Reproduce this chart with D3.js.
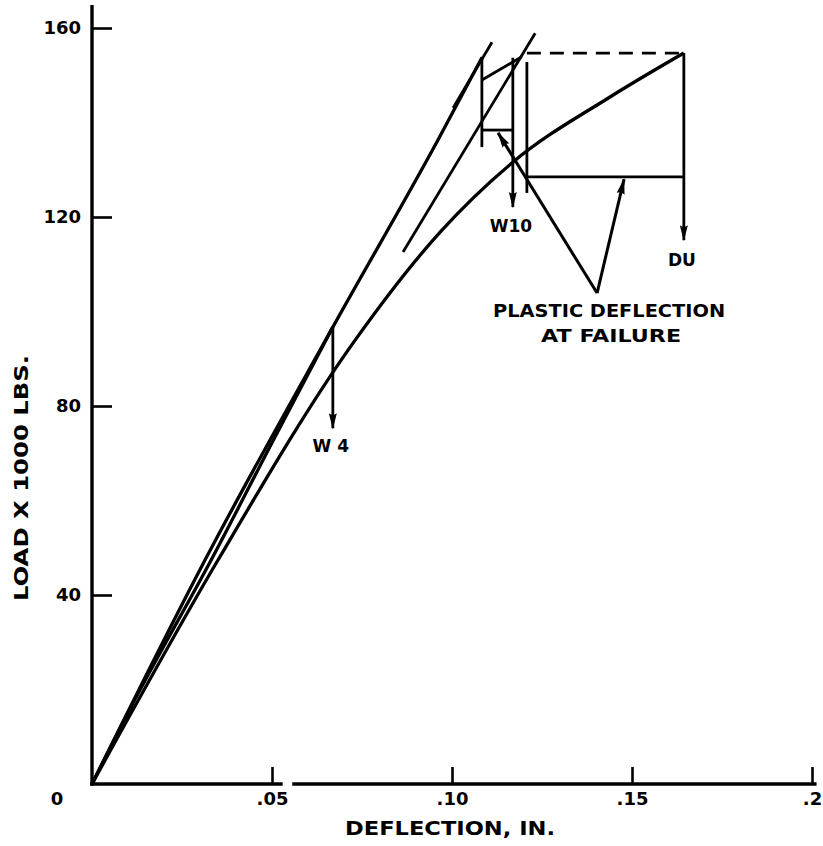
<!DOCTYPE html>
<html>
<head>
<meta charset="utf-8">
<script src="https://cdn.jsdelivr.net/npm/d3@7"></script>
<style>
  body { margin: 0; background: #fff; }
  text { font-family: "DejaVu Sans", sans-serif; font-weight: bold; fill: #000; }
</style>
</head>
<body>
<svg id="chart" width="823" height="846"></svg>
<script>

// tick values / labels
const xTicks = [0.05, 0.10, 0.15, 0.2];
const xTickLabels = [".05", ".10", ".15", ".2"];
const yTicks = [40, 80, 120, 160];

// load (x1000 lbs) vs deflection (in.)
const w4Curve  = [[0, 0], [0.012, 18.0], [0.0331, 47.4], [0.05, 72.2], [0.0669, 96.7]];
const w10Curve = [[0, 0], [0.0314, 47.4], [0.0669, 96.7], [0.0961, 136.3], [0.1083, 153.7]];
const duCurve  = [[0, 0], [0.035, 47.4], [0.0725, 93.3], [0.0967, 116.8],
                  [0.1169, 131.6], [0.1439, 145.4], [0.1644, 154.7]];

// straight construction lines (elastic slope lines)
const constructionLines = [
  [[0.0864, 112.6], [0.1231, 158.9]],
  [[0.1003, 143.1], [0.1111, 157.0]],
  [[0.1083, 149.0], [0.1194, 153.9]],
  [[0.1083, 153.9], [0.1083, 134.8]],   // W10 unloading vertical
  [[0.1208, 152.8], [0.1208, 125.1]],   // DU unloading vertical
];

// plastic deflection brackets (horizontal)
const plasticLines = [
  [[0.1083, 138.4], [0.1169, 138.4]],
  [[0.1208, 128.5], [0.1644, 128.5]],
];
const dashedLine = [[0.1208, 154.7], [0.1644, 154.7]];

// failure arrows: deflection, from load, to load
const failureArrows = [
  { name: "W 4", x: 0.0669, from: 96.7, to: 75.3, labelLoad: 71.3 },
  { name: "W10", x: 0.1169, from: 153.7, to: 122.1, labelLoad: 117.8 },
  { name: "DU",  x: 0.1644, from: 154.7, to: 115.1, labelLoad: 110.6 },
];

// pointer from the note to the two plastic deflection lines
const pointerVertex = [0.1403, 103.9];
const pointerTips = [[0.1128, 137.8], [0.1478, 128.0]];

const margin = { top: 28, right: 11, bottom: 62, left: 92 };
const width = 823, height = 846;

const svg = d3.select("#chart");

const x = d3.scaleLinear().domain([0, 0.2]).range([margin.left, width - margin.right]);
const y = d3.scaleLinear().domain([0, 160]).range([height - margin.bottom, margin.top]);

const ink = "#000";

svg.append("defs")
  .append("marker")
    .attr("id", "head")
    .attr("viewBox", "0 -5 16 10")
    .attr("refX", 15)
    .attr("refY", 0)
    .attr("markerWidth", 16)
    .attr("markerHeight", 10)
    .attr("markerUnits", "userSpaceOnUse")
    .attr("orient", "auto")
  .append("path")
    .attr("d", "M0,-4 Q3,0 0,4 L16,0 Z")
    .attr("fill", ink);

// ---- axes ----
const xAxis = svg.append("g")
    .attr("transform", `translate(0,${y(0)})`)
    .call(d3.axisBottom(x)
      .tickValues(xTicks)
      .tickFormat((d, i) => xTickLabels[i])
      .tickSizeInner(-17)
      .tickSizeOuter(0)
      .tickPadding(8));
xAxis.attr("font-size", 18).attr("font-family", "DejaVu Sans");
xAxis.select(".domain").remove();
xAxis.selectAll(".tick line").attr("stroke-width", 2.6);
xAxis.selectAll(".tick text").attr("font-weight", "bold");

const yAxis = svg.append("g")
    .attr("transform", `translate(${x(0)},0)`)
    .call(d3.axisLeft(y)
      .tickValues(yTicks)
      .tickSizeInner(-20)
      .tickSizeOuter(0)
      .tickPadding(11));
yAxis.attr("font-size", 18).attr("font-family", "DejaVu Sans");
yAxis.select(".domain").remove();
yAxis.selectAll(".tick line").attr("stroke-width", 2.6);
yAxis.selectAll(".tick text").attr("font-weight", "bold");

// axis lines drawn by hand (x axis has a small break past .05)
const axisSegs = [
  [[0, 0], [0, 164.5]],
  [[0, 0], [0.0525, 0]],
  [[0.0561, 0], [0.2008, 0]],
];
svg.append("g")
  .selectAll("line")
  .data(axisSegs)
  .join("line")
    .attr("x1", d => x(d[0][0]))
    .attr("y1", d => y(d[0][1]))
    .attr("x2", d => x(d[1][0]))
    .attr("y2", d => y(d[1][1]))
    .attr("stroke", ink)
    .attr("stroke-width", 3.4)
    .attr("stroke-linecap", "square");

svg.append("text")
    .attr("x", x(0) - 35)
    .attr("y", y(0) + 16)
    .attr("text-anchor", "middle")
    .attr("dominant-baseline", "middle")
    .attr("font-size", 18)
    .text("0");

svg.append("text")
    .attr("transform", `translate(${x(0) - 70},${(y(0) + y(160)) / 2 + 72}) rotate(-90)`)
    .attr("text-anchor", "middle")
    .attr("dominant-baseline", "middle")
    .attr("font-size", 19)
    .attr("textLength", 246)
    .attr("lengthAdjust", "spacingAndGlyphs")
    .text("LOAD X 1000 LBS.");

svg.append("text")
    .attr("x", 450)
    .attr("y", y(0) + 45)
    .attr("text-anchor", "middle")
    .attr("dominant-baseline", "middle")
    .attr("font-size", 19)
    .attr("textLength", 210)
    .attr("lengthAdjust", "spacingAndGlyphs")
    .text("DEFLECTION, IN.");

// ---- curves ----
const line = d3.line()
  .x(d => x(d[0]))
  .y(d => y(d[1]))
  .curve(d3.curveMonotoneX);

svg.append("g")
  .selectAll("path")
  .data([w4Curve, w10Curve, duCurve])
  .join("path")
    .attr("d", line)
    .attr("fill", "none")
    .attr("stroke", ink)
    .attr("stroke-width", 3.3)
    .attr("stroke-linejoin", "round");

const straight = d3.line().x(d => x(d[0])).y(d => y(d[1]));

svg.append("g")
  .selectAll("path")
  .data(constructionLines.concat(plasticLines))
  .join("path")
    .attr("d", straight)
    .attr("fill", "none")
    .attr("stroke", ink)
    .attr("stroke-width", 2.8);

svg.append("path")
    .attr("d", straight(dashedLine))
    .attr("fill", "none")
    .attr("stroke", ink)
    .attr("stroke-width", 2.8)
    .attr("stroke-dasharray", "14 9");

// ---- failure arrows + labels ----
const arrows = svg.append("g");
arrows.selectAll("line")
  .data(failureArrows)
  .join("line")
    .attr("x1", d => x(d.x))
    .attr("x2", d => x(d.x))
    .attr("y1", d => y(d.from))
    .attr("y2", d => y(d.to))
    .attr("stroke", ink)
    .attr("stroke-width", 2.8)
    .attr("marker-end", "url(#head)");

arrows.selectAll("text")
  .data(failureArrows)
  .join("text")
    .attr("x", d => x(d.x) - 2)
    .attr("y", d => y(d.labelLoad))
    .attr("text-anchor", "middle")
    .attr("dominant-baseline", "middle")
    .attr("font-size", 17)
    .text(d => d.name);

// ---- pointer to plastic deflection ----
svg.append("g")
  .selectAll("line")
  .data(pointerTips)
  .join("line")
    .attr("x1", x(pointerVertex[0]))
    .attr("y1", y(pointerVertex[1]))
    .attr("x2", d => x(d[0]))
    .attr("y2", d => y(d[1]))
    .attr("stroke", ink)
    .attr("stroke-width", 3)
    .attr("marker-end", "url(#head)");

svg.append("text")
    .attr("x", x(pointerVertex[0]) + 12)
    .attr("y", y(pointerVertex[1]) + 19)
    .attr("text-anchor", "middle")
    .attr("dominant-baseline", "middle")
    .attr("font-size", 18)
    .attr("textLength", 232)
    .attr("lengthAdjust", "spacingAndGlyphs")
    .text("PLASTIC DEFLECTION");

svg.append("text")
    .attr("x", x(pointerVertex[0]) + 14)
    .attr("y", y(pointerVertex[1]) + 44)
    .attr("text-anchor", "middle")
    .attr("dominant-baseline", "middle")
    .attr("font-size", 18)
    .attr("textLength", 140)
    .attr("lengthAdjust", "spacingAndGlyphs")
    .text("AT FAILURE");

</script>
</body>
</html>
